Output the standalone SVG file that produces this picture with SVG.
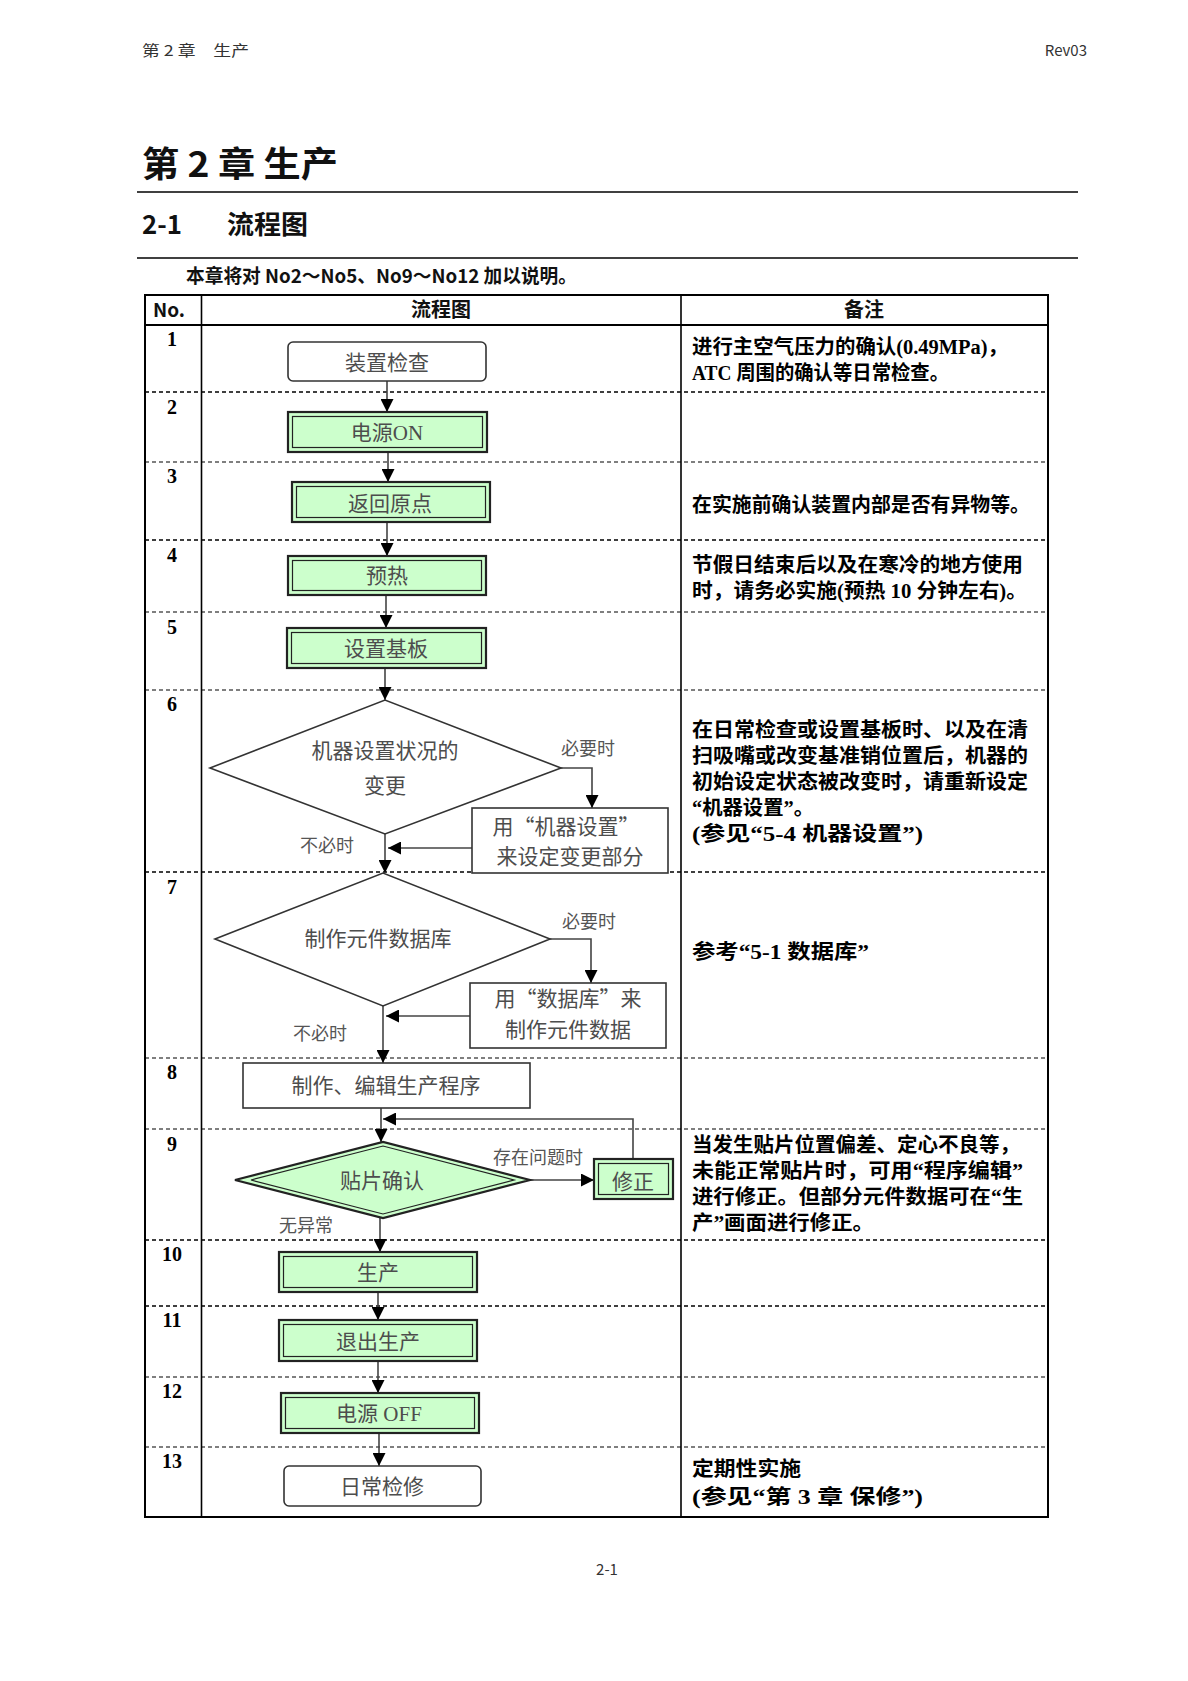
<svg xmlns="http://www.w3.org/2000/svg" width="1188" height="1681" viewBox="0 0 1188 1681">
<style>
.hd{font-family:"Noto Sans CJK SC",sans-serif;font-weight:bold;fill:#111}
.pg{font-family:"Noto Sans CJK SC",sans-serif;fill:#333;font-size:15px}
.rm{font-family:"Liberation Serif","Noto Sans CJK SC",serif;font-weight:bold;font-size:20px;fill:#000}
.num{font-family:"Liberation Serif",serif;font-weight:bold;font-size:20px;fill:#000;text-anchor:middle}
.nt{font-family:"Liberation Serif","Noto Sans CJK SC",serif;font-size:21px;fill:#4d4d4d;text-anchor:middle}
.ntc{font-family:"Noto Sans CJK SC",sans-serif;font-size:21px;fill:#4d4d4d;text-anchor:middle}
.lb{font-family:"Noto Sans CJK SC",sans-serif;font-size:18px;fill:#555;text-anchor:middle}
.plain{fill:#fff;stroke:#333;stroke-width:1.6}
.grn{fill:#ccffcc;stroke:#222;stroke-width:2.2}
.inr{fill:none;stroke:#222;stroke-width:1.2}
.sep{stroke:#000;stroke-width:1.6;stroke-dasharray:4 3;fill:none}
.sepl{stroke:#000;stroke-width:1.1;stroke-dasharray:4 3;fill:none}
.ln{stroke:#444;stroke-width:1.6;fill:none;marker-end:url(#ah)}
</style>
<defs>
<marker id="ah" viewBox="0 0 10 10" refX="10" refY="5" markerWidth="13" markerHeight="13" markerUnits="userSpaceOnUse" orient="auto">
<path d="M0,0 L10,5 L0,10 z" fill="#000"/>
</marker>
</defs>
<rect width="1188" height="1681" fill="#fff"/>

<g id="page-header">
<text class="pg" x="142" y="56" textLength="107" lengthAdjust="spacingAndGlyphs">第 2 章　生产</text>
<text class="pg" x="1087" y="56" text-anchor="end">Rev03</text>
<text class="hd" x="142" y="177" font-size="35" textLength="196" lengthAdjust="spacingAndGlyphs">第 2 章 生产</text>
<line x1="137" y1="192" x2="1078" y2="192" stroke="#000" stroke-width="1.6"/>
<text class="hd" x="142" y="234" font-size="26" textLength="40" lengthAdjust="spacingAndGlyphs">2-1</text>
<text class="hd" x="227" y="234" font-size="26" textLength="81" lengthAdjust="spacingAndGlyphs">流程图</text>
<line x1="137" y1="258" x2="1078" y2="258" stroke="#000" stroke-width="1.6"/>
<text class="hd" x="186" y="283" font-size="19" textLength="391" lengthAdjust="spacingAndGlyphs">本章将对 No2～No5、No9～No12 加以说明。</text>
<text class="pg" x="607" y="1575" text-anchor="middle">2-1</text>
</g>

<g id="table">
<rect x="145" y="295" width="903" height="1222" fill="none" stroke="#000" stroke-width="2"/>
<line x1="145" y1="325" x2="1048" y2="325" stroke="#000" stroke-width="2"/>
<line x1="201.5" y1="295" x2="201.5" y2="1517" stroke="#000" stroke-width="1.6"/>
<line x1="681" y1="295" x2="681" y2="1517" stroke="#000" stroke-width="1.6"/>
<text class="hd" x="169" y="317" font-size="19" text-anchor="middle">No.</text>
<text class="hd" x="441" y="317" font-size="20" text-anchor="middle">流程图</text>
<text class="hd" x="864" y="317" font-size="20" text-anchor="middle">备注</text>
<path class="sep" d="M145,392H1048"/>
<path class="sepl" d="M145,462H1048"/>
<path class="sep" d="M145,540H1048"/>
<path class="sepl" d="M145,612H1048"/>
<path class="sepl" d="M145,690H1048"/>
<path class="sep" d="M145,872H1048"/>
<path class="sepl" d="M145,1058H1048"/>
<path class="sepl" d="M145,1129H1048"/>
<path class="sep" d="M145,1240H1048"/>
<path class="sep" d="M145,1306H1048"/>
<path class="sepl" d="M145,1377H1048"/>
<path class="sepl" d="M145,1447H1048"/>
<text class="num" x="172" y="346">1</text>
<text class="num" x="172" y="414">2</text>
<text class="num" x="172" y="483">3</text>
<text class="num" x="172" y="562">4</text>
<text class="num" x="172" y="634">5</text>
<text class="num" x="172" y="711">6</text>
<text class="num" x="172" y="894">7</text>
<text class="num" x="172" y="1079">8</text>
<text class="num" x="172" y="1151">9</text>
<text class="num" x="172" y="1261">10</text>
<text class="num" x="172" y="1327">11</text>
<text class="num" x="172" y="1398">12</text>
<text class="num" x="172" y="1468">13</text>
</g>

<g id="remarks">
<text class="rm" x="692" y="354" textLength="316" lengthAdjust="spacingAndGlyphs">进行主空气压力的确认(0.49MPa)，</text>
<text class="rm" x="692" y="380" textLength="257" lengthAdjust="spacingAndGlyphs">ATC 周围的确认等日常检查。</text>
<text class="rm" x="692" y="512" textLength="338" lengthAdjust="spacingAndGlyphs">在实施前确认装置内部是否有异物等。</text>
<text class="rm" x="692" y="572" textLength="331" lengthAdjust="spacingAndGlyphs">节假日结束后以及在寒冷的地方使用</text>
<text class="rm" x="692" y="598" textLength="335" lengthAdjust="spacingAndGlyphs">时，请务必实施(预热 10 分钟左右)。</text>
<text class="rm" x="692" y="737" textLength="336" lengthAdjust="spacingAndGlyphs">在日常检查或设置基板时、以及在清</text>
<text class="rm" x="692" y="763" textLength="336" lengthAdjust="spacingAndGlyphs">扫吸嘴或改变基准销位置后，机器的</text>
<text class="rm" x="692" y="789" textLength="336" lengthAdjust="spacingAndGlyphs">初始设定状态被改变时，请重新设定</text>
<text class="rm" x="692" y="815" textLength="122" lengthAdjust="spacingAndGlyphs">“机器设置”。</text>
<text class="rm" x="692" y="841" textLength="231" lengthAdjust="spacingAndGlyphs">(参见“5-4 机器设置”)</text>
<text class="rm" x="692" y="959" textLength="177" lengthAdjust="spacingAndGlyphs">参考“5-1 数据库”</text>
<text class="rm" x="692" y="1152" textLength="328" lengthAdjust="spacingAndGlyphs">当发生贴片位置偏差、定心不良等，</text>
<text class="rm" x="692" y="1178" textLength="331" lengthAdjust="spacingAndGlyphs">未能正常贴片时，可用“程序编辑”</text>
<text class="rm" x="692" y="1204" textLength="331" lengthAdjust="spacingAndGlyphs">进行修正。但部分元件数据可在“生</text>
<text class="rm" x="692" y="1230" textLength="182" lengthAdjust="spacingAndGlyphs">产”画面进行修正。</text>
<text class="rm" x="692" y="1476" textLength="109" lengthAdjust="spacingAndGlyphs">定期性实施</text>
<text class="rm" x="692" y="1504" textLength="231" lengthAdjust="spacingAndGlyphs">(参见“第 3 章 保修”)</text>
</g>

<g id="connectors">
<path class="ln" d="M387,381V412"/>
<path class="ln" d="M388,452V482"/>
<path class="ln" d="M387,522V556"/>
<path class="ln" d="M386,595V628"/>
<path class="ln" d="M385,668V700"/>
<path class="ln" d="M561,768H592V808"/>
<path class="ln" d="M472,848H388"/>
<path class="ln" d="M385,834V873"/>
<path class="ln" d="M550,939H591V983"/>
<path class="ln" d="M470,1016H386"/>
<path class="ln" d="M383,1006V1063"/>
<path class="ln" d="M381,1108V1142"/>
<path class="ln" d="M633,1159V1119H383"/>
<path class="ln" d="M530,1180H594"/>
<path class="ln" d="M380,1218V1252"/>
<path class="ln" d="M378,1292V1320"/>
<path class="ln" d="M378,1361V1393"/>
<path class="ln" d="M379,1433V1466"/>
<text class="lb" x="588" y="755">必要时</text>
<text class="lb" x="327" y="852">不必时</text>
<text class="lb" x="589" y="928">必要时</text>
<text class="lb" x="320" y="1040">不必时</text>
<text class="lb" x="538" y="1164" font-size="19">存在问题时</text>
<text class="lb" x="306" y="1232" font-size="19">无异常</text>
</g>

<g id="n1"><rect class="plain" x="288" y="342" width="198" height="39" rx="5"/><text class="nt" x="387" y="370">装置检查</text></g>
<g id="n2"><rect class="grn" x="288" y="412" width="199" height="40"/><rect class="inr" x="292.5" y="416.5" width="190" height="31"/><text class="nt" x="387" y="440">电源ON</text></g>
<g id="n3"><rect class="grn" x="292" y="482" width="198" height="40"/><rect class="inr" x="296.5" y="486.5" width="189" height="31"/><text class="nt" x="390" y="511">返回原点</text></g>
<g id="n4"><rect class="grn" x="288" y="556" width="198" height="39"/><rect class="inr" x="292.5" y="560.5" width="189" height="30"/><text class="nt" x="387" y="583">预热</text></g>
<g id="n5"><rect class="grn" x="287" y="628" width="199" height="40"/><rect class="inr" x="291.5" y="632.5" width="190" height="31"/><text class="nt" x="386" y="656">设置基板</text></g>
<g id="n6"><polygon class="plain" points="210,768 385,700 561,768 385,834"/><text class="nt" x="385" y="758">机器设置状况的</text><text class="nt" x="385" y="793">变更</text></g>
<g id="n6b"><rect class="plain" x="472" y="808" width="196" height="65"/><text class="ntc" x="566" y="834">用“机器设置”</text><text class="ntc" x="570" y="864">来设定变更部分</text></g>
<g id="n7"><polygon class="plain" points="215,939 383,873 550,939 383,1006"/><text class="nt" x="378" y="946">制作元件数据库</text></g>
<g id="n7b"><rect class="plain" x="470" y="983" width="196" height="65"/><text class="ntc" x="568" y="1006">用“数据库”来</text><text class="ntc" x="568" y="1037">制作元件数据</text></g>
<g id="n8"><rect class="plain" x="243" y="1063" width="287" height="45"/><text class="nt" x="386" y="1093" font-size="24">制作、编辑生产程序</text></g>
<g id="n9"><polygon class="grn" points="235,1180 383,1142 530,1180 383,1218"/><polygon class="inr" points="251,1180 383,1146 514,1180 383,1214"/><text class="nt" x="382" y="1188" font-size="24">贴片确认</text></g>
<g id="n9b"><rect class="grn" x="594" y="1159" width="79" height="40"/><rect class="inr" x="598.5" y="1163.5" width="70" height="31"/><text class="nt" x="633" y="1189" font-size="22">修正</text></g>
<g id="n10"><rect class="grn" x="279" y="1252" width="198" height="40"/><rect class="inr" x="283.5" y="1256.5" width="189" height="31"/><text class="nt" x="378" y="1280">生产</text></g>
<g id="n11"><rect class="grn" x="279" y="1320" width="198" height="41"/><rect class="inr" x="283.5" y="1324.5" width="189" height="32"/><text class="nt" x="378" y="1349" font-size="23">退出生产</text></g>
<g id="n12"><rect class="grn" x="281" y="1393" width="198" height="40"/><rect class="inr" x="285.5" y="1397.5" width="189" height="31"/><text class="nt" x="379" y="1421">电源 OFF</text></g>
<g id="n13"><rect class="plain" x="284" y="1466" width="197" height="40" rx="5"/><text class="nt" x="382" y="1494" font-size="23">日常检修</text></g>
</svg>
